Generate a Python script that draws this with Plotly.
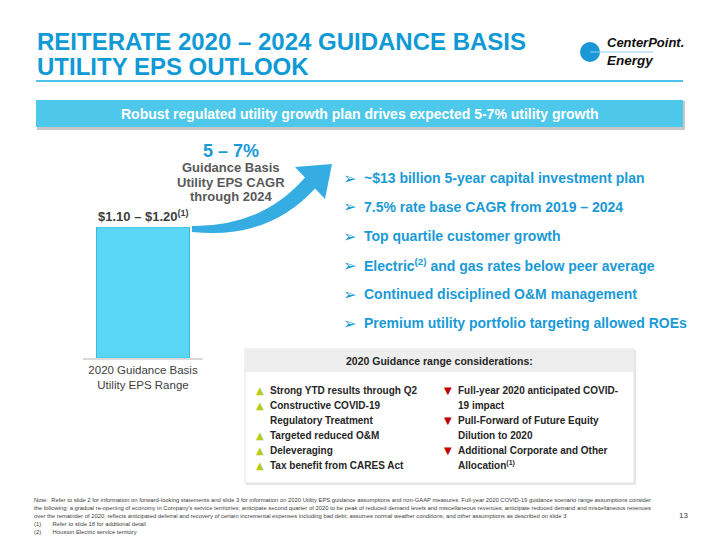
import plotly.graph_objects as go

# ---------------- data ----------------
categories = ["2020 Guidance Basis<br>Utility EPS Range"]
eps_low = [1.10]
eps_high = [1.20]
cagr_label = "5 – 7%"
bullets = [
    "~$13 billion 5-year capital investment plan",
    "7.5% rate base CAGR from 2019 – 2024",
    "Top quartile customer growth",
    "Electric<sup>(2)</sup> and gas rates below peer average",
    "Continued disciplined O&M management",
    "Premium utility portfolio targeting allowed ROEs",
]
left_items = [("▲", "Strong YTD results through Q2"), ("▲", "Constructive COVID-19"),
              ("", "Regulatory Treatment"), ("▲", "Targeted reduced O&M"),
              ("▲", "Deleveraging"), ("▲", "Tax benefit from CARES Act")]
right_items = [("▼", "Full-year 2020 anticipated COVID-"), ("", "19 impact"),
               ("▼", "Pull-Forward of Future Equity"), ("", "Dilution to 2020"),
               ("▼", "Additional Corporate and Other"), ("", "Allocation<sup>(1)</sup>")]
footer_lines = [
    "Note:  Refer to slide 2 for information on forward-looking statements and slide 3 for information on 2020 Utility EPS guidance assumptions and non-GAAP measures. Full-year 2020 COVID-19 guidance scenario range assumptions consider",
    "the following: a gradual re-opening of economy in Company's service territories; anticipate second quarter of 2020 to be peak of reduced demand levels and miscellaneous revenues; anticipate reduced demand and miscellaneous revenues",
    "over the remainder of 2020; reflects anticipated deferral and recovery of certain incremental expenses including bad debt; assumes normal weather conditions; and other assumptions as described on slide 3",
    "(1)       Refer to slide 18 for additional detail",
    "(2)       Houston Electric service territory",
]

W, H = 720, 540
FONT = "Liberation Sans, Arial, sans-serif"
BLUE = "#0f9ad6"


def px(x):
    return x / W


def py(y):
    return 1 - y / H


fig = go.Figure()
fig.add_trace(go.Bar(
    x=categories, y=eps_high, width=0.775,
    marker=dict(color="#59d5f5", line=dict(color="#3fb9dc", width=1)),
    hoverinfo="skip", showlegend=False,
))

shapes = []
ann = []

# title underline
shapes.append(dict(type="line", xref="paper", yref="paper", x0=px(36), x1=px(683), y0=py(81), y1=py(81),
                   line=dict(color="#4ec3ea", width=2)))
# banner shadow + banner
shapes.append(dict(type="rect", xref="paper", yref="paper", x0=px(37), x1=px(685), y0=py(101), y1=py(130),
                   fillcolor="#c8c8c8", line=dict(width=0), layer="below"))
shapes.append(dict(type="rect", xref="paper", yref="paper", x0=px(36), x1=px(683), y0=py(100), y1=py(127),
                   fillcolor="#4ec8ea", line=dict(width=0), layer="below"))
# logo
shapes.append(dict(type="circle", xref="paper", yref="paper", x0=px(580), x1=px(600), y0=py(42), y1=py(62),
                   fillcolor="#1a98d5", line=dict(width=0)))
shapes.append(dict(type="line", xref="paper", yref="paper", x0=px(590), x1=px(653), y0=py(52), y1=py(52),
                   line=dict(color="#8fd3f0", width=1)))

# curved arrow
def P(x, y):
    return f"{px(x):.5f},{py(y):.5f}"

arrow_path = (f"M {P(192,226)} Q {P(262,227)} {P(305,177.6)} L {P(295,167)} L {P(332,164)} "
              f"L {P(325,199)} L {P(315,188.4)} Q {P(268,240)} {P(192,232)} Z")
shapes.append(dict(type="path", xref="paper", yref="paper", path=arrow_path,
                   fillcolor="#35ade2", line=dict(width=0)))

# considerations box
shapes.append(dict(type="rect", xref="paper", yref="paper", x0=px(246), x1=px(636), y0=py(350), y1=py(485),
                   fillcolor="#e6e6e6", line=dict(width=0), layer="below"))
shapes.append(dict(type="rect", xref="paper", yref="paper", x0=px(245), x1=px(634), y0=py(349), y1=py(483),
                   fillcolor="white", line=dict(color="#e3e3e3", width=1), layer="below"))
shapes.append(dict(type="rect", xref="paper", yref="paper", x0=px(245), x1=px(634), y0=py(349), y1=py(372),
                   fillcolor="#eeeeee", line=dict(width=0), layer="below"))


def A(x, y, text, size, color, bold=False, xanchor="left", family=FONT, italic=False):
    t = f"<b>{text}</b>" if bold else text
    if italic:
        t = f"<i>{t}</i>"
    ann.append(dict(x=px(x), y=py(y), xref="paper", yref="paper", text=t, showarrow=False,
                    xanchor=xanchor, yanchor="middle", align=xanchor if xanchor != "center" else "center",
                    font=dict(family=family, size=size, color=color)))

# title
A(35, 41, "REITERATE 2020 – 2024 GUIDANCE BASIS", 24, BLUE, bold=True)
A(35, 66.5, "UTILITY EPS OUTLOOK", 24, BLUE, bold=True)
# logo text
A(605, 43, "CenterPoint.", 13, "#111111", bold=True, italic=True)
A(605, 61, "Energy", 13.5, "#111111", bold=True, italic=True)
# banner text
A(360, 114, "Robust regulated utility growth plan drives expected 5-7% utility growth", 14, "white", bold=True, xanchor="center")
# CAGR text
A(231, 151, cagr_label, 18, "#1a9ad6", bold=True, xanchor="center")
A(231, 167.5, "Guidance Basis", 13, "#595959", bold=True, xanchor="center")
A(231, 182, "Utility EPS CAGR", 13, "#595959", bold=True, xanchor="center")
A(231, 196.5, "through 2024", 13, "#595959", bold=True, xanchor="center")
# bar label
A(143, 216, f"${eps_low[0]:.2f} – ${eps_high[0]:.2f}<sup>(1)</sup>", 13, "#404040", bold=True, xanchor="center")

# right bullets
for i, b in enumerate(bullets):
    yy = 178 + 29 * i
    A(341, yy, "➢", 16, BLUE, family="DejaVu Sans, sans-serif")
    A(362, yy, b, 14, "#1a9ad6", bold=True)

# considerations
A(439.5, 360.5, "2020 Guidance range considerations:", 10.5, "#262626", bold=True, xanchor="center")
for i, (m, t) in enumerate(left_items):
    yy = 390 + 15 * i
    if m:
        A(254, yy, m, 10, "#b5cc1a", family="DejaVu Sans, sans-serif")
    A(268, yy, t, 10, "#262626", bold=True)
for i, (m, t) in enumerate(right_items):
    yy = 390 + 15 * i
    if m:
        A(442, yy, m, 10, "#c00000", family="DejaVu Sans, sans-serif")
    A(456, yy, t, 10, "#262626", bold=True)

# footer
for i, line in enumerate(footer_lines):
    A(32, 500 + 8 * i, line, 5.85, "#404040")
A(690, 515, "13", 8, "#404040", xanchor="right")

fig.update_layout(
    width=W, height=H, margin=dict(l=0, r=0, t=0, b=0),
    paper_bgcolor="white", plot_bgcolor="rgba(0,0,0,0)",
    shapes=shapes, annotations=ann, showlegend=False,
    font=dict(family=FONT),
    xaxis=dict(domain=[px(83), px(203)], showgrid=False, zeroline=False, showline=True,
               linecolor="#d9d9d9", linewidth=2, ticks="", fixedrange=True,
               tickfont=dict(family=FONT, size=11.5, color="#404040")),
    yaxis=dict(domain=[py(358), py(227)], range=[0, eps_high[0]], showgrid=False, zeroline=False,
               showticklabels=False, showline=False, fixedrange=True),
)

fig.write_html("out.html", config={"displayModeBar": False},
               post_script="document.body.style.margin='0';")
